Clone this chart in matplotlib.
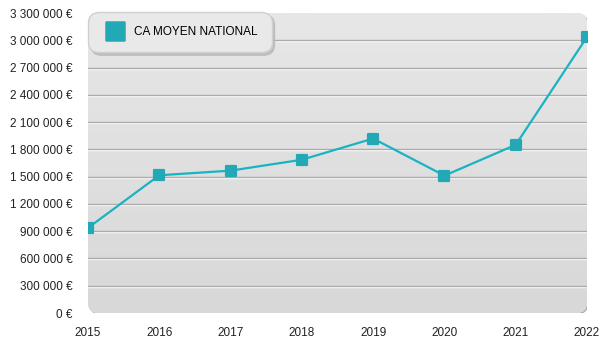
import numpy as np
import matplotlib.pyplot as plt
from matplotlib.patches import FancyBboxPatch
from matplotlib.ticker import FuncFormatter
from matplotlib.lines import Line2D
from matplotlib.markers import MarkerStyle
from matplotlib.colors import LinearSegmentedColormap
import matplotlib.transforms as mtransforms

plt.rcParams['font.family'] = ['Liberation Sans', 'DejaVu Sans']

years = [2015, 2016, 2017, 2018, 2019, 2020, 2021, 2022]
ca_moyen = [936000, 1515000, 1566000, 1686000, 1919000, 1511000, 1850000, 3036000]
yticks = np.arange(0, 3300001, 300000)

line_col = '#19b3c2'
marker_col = '#23a9b5'

W, H = 499, 300
fig = plt.figure(figsize=(6, 3.5), dpi=100)
ax = fig.add_axes([88 / 600, 37 / 350, W / 600, H / 350])
ax.patch.set_visible(False)
for s in ax.spines.values():
    s.set_visible(False)

# rounded panel (sized in pixels) with a thin grey edge at the bottom/right
pix = mtransforms.Affine2D().scale(1 / W, 1 / H) + ax.transAxes
shadow = FancyBboxPatch((1, -1), W, H, boxstyle='round,pad=0,rounding_size=10',
                        transform=pix, facecolor='#a9a9a9', edgecolor='none', zorder=0)
ax.add_patch(shadow)
panel = FancyBboxPatch((0, 0), W, H, boxstyle='round,pad=0,rounding_size=10',
                       transform=pix, facecolor='#e0e0e0', edgecolor='none', zorder=0.5)
ax.add_patch(panel)
grad = np.linspace(0, 1, 256).reshape(-1, 1)
bg = LinearSegmentedColormap.from_list('bg', ['#e7e7e7', '#d8d8d8'])
img = ax.imshow(grad, cmap=bg, extent=[0, 1, 0, 1], transform=ax.transAxes,
                aspect='auto', zorder=0.6, interpolation='bilinear')
img.set_clip_path(panel)
ax.set_xlim(2015, 2022)
ax.set_ylim(0, 3300000)

# embossed grid lines: grey line with a white one just under it
px = mtransforms.ScaledTranslation(0, -1 / 100, fig.dpi_scale_trans)
for v in yticks[1:-1]:
    hl = Line2D([0, 1], [v, v], color='white', lw=1, zorder=1,
                transform=ax.get_yaxis_transform() + px)
    ax.add_line(hl)
    ax.axhline(v, color='#ababab', lw=1, zorder=1.1)

sq = MarkerStyle('s', joinstyle='round')
ax.plot(years, ca_moyen, color=line_col, lw=1.6, zorder=3)
ax.plot(years, ca_moyen, ls='none', marker=sq, ms=7.5, mfc=marker_col, mec=marker_col,
        mew=1.6, zorder=4)

ax.set_yticks(yticks)
ax.yaxis.set_major_formatter(FuncFormatter(lambda v, p: f'{int(v):,} €'.replace(',', ' ')))
ax.set_xticks(years)
ax.tick_params(length=0, labelsize=8.5, colors='#222222')
ax.tick_params(axis='y', pad=11)
ax.tick_params(axis='x', pad=10)

handle = Line2D([], [], ls='none', marker=sq, ms=13, mfc=marker_col, mec=marker_col, mew=1.8)
leg = ax.legend([handle], ['CA MOYEN NATIONAL'], loc='upper left', bbox_to_anchor=(0.0, 1.003),
                frameon=True, fontsize=8.5, handlelength=2.1, handletextpad=0.6,
                borderpad=1.2, borderaxespad=0, fancybox=True,
                shadow={'color': '#b8b8b8', 'alpha': 0.8})
fr = leg.get_frame()
fr.set_facecolor('#e9e9e9')
fr.set_edgecolor('#d0d0d0')
fr.set_alpha(1)
fr.set_boxstyle('round,pad=0,rounding_size=0.9')
leg.set_zorder(5)

fig.savefig('out.png', dpi=100)
